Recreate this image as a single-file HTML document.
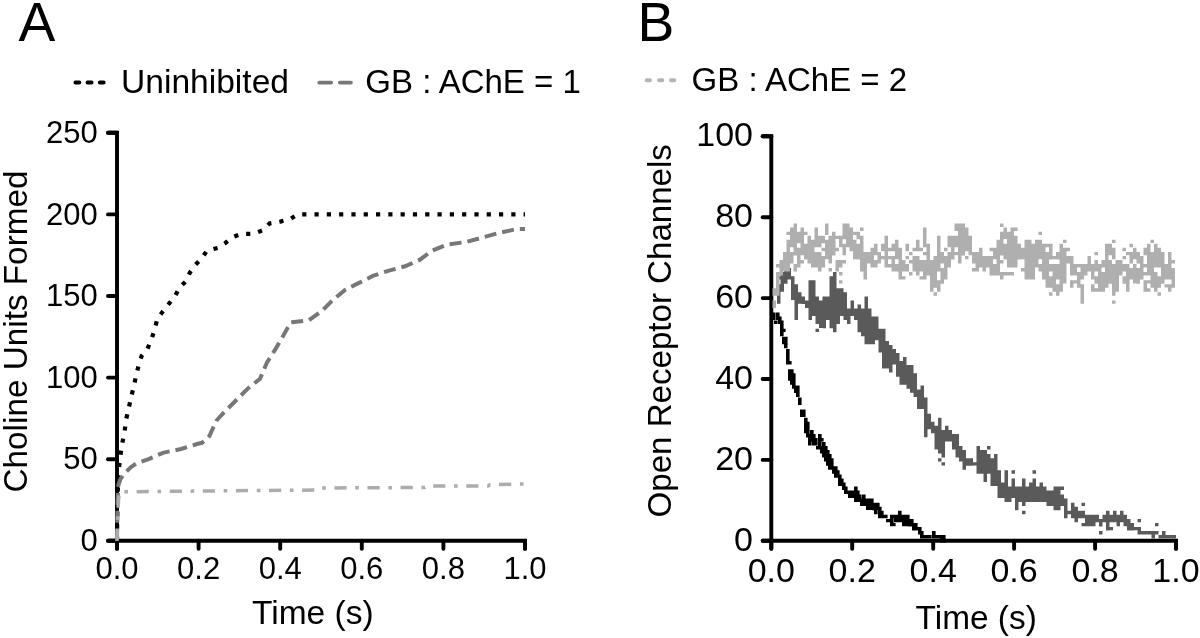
<!DOCTYPE html>
<html><head><meta charset="utf-8"><style>
html,body{margin:0;padding:0;background:#fff;}
body{width:1200px;height:638px;overflow:hidden;}
svg{display:block;will-change:transform;}
text{font-family:"Liberation Sans",sans-serif;fill:#000;}
</style></head><body>
<svg width="1200" height="638" viewBox="0 0 1200 638">
<rect width="1200" height="638" fill="#fff"/>
<!-- Panel letters -->
<text x="18.6" y="40.5" font-size="55.2">A</text>
<text x="637.6" y="40.5" font-size="55.2">B</text>
<!-- Legends -->
<g font-size="33">
<text x="121" y="93.4" font-size="33.6">Uninhibited</text>
<text x="365.3" y="92.9">GB : AChE = 1</text>
<text x="691.6" y="90.8">GB : AChE = 2</text>
</g>
<g fill="none" stroke-linecap="round" stroke-width="3.9">
<path d="M75.4 82.5H79.3M87.5 82.5H91.6M99.8 82.5H103.7" stroke="#000"/>
<path d="M319.3 82.6H331.1M339.9 82.6H350.9" stroke="#777"/>
<path d="M646.7 80.3H650M659 80.3H662.3M671 80.3H674.3" stroke="#b4b4b4"/>
</g>

<!-- Panel A axes -->
<g stroke="#000" stroke-width="3.9" stroke-linecap="round" fill="none">
<path d="M108 132.8H117.0V548.7"/>
<line x1="108" y1="540.8" x2="117.0" y2="540.8"/><line x1="108" y1="459.2" x2="117.0" y2="459.2"/><line x1="108" y1="377.6" x2="117.0" y2="377.6"/><line x1="108" y1="296" x2="117.0" y2="296"/><line x1="108" y1="214.4" x2="117.0" y2="214.4"/><line x1="108" y1="132.8" x2="117.0" y2="132.8"/>
<path d="M108 540.8H525.0V548.7"/>
<line x1="117" y1="540.8" x2="117" y2="548.7"/><line x1="198.6" y1="540.8" x2="198.6" y2="548.7"/><line x1="280.2" y1="540.8" x2="280.2" y2="548.7"/><line x1="361.8" y1="540.8" x2="361.8" y2="548.7"/><line x1="443.4" y1="540.8" x2="443.4" y2="548.7"/><line x1="525" y1="540.8" x2="525" y2="548.7"/>
</g>
<!-- Panel A data -->
<g fill="none">
<polyline points="117,540.8 117.4,505 118.2,477 119.3,465 120.8,453 122.5,442 124.7,431 126,420 128.3,410 131,398 133.5,387.5 136,376.2 138.6,365.4 141.6,356 147.4,349 151.4,339.5 154.8,329.2 157.2,319 163,311.3 169.2,303.4 174.9,296.5 179.6,287.4 185.6,281.6 189.9,272.6 195.6,264.5 201.8,258.3 206.8,250.8 217.6,248 225,243.2 232.6,237.2 241.6,233.8 253.8,233.8 263.3,230 269.5,223.5 280.2,221.6 290.1,219.2 297.5,214.3 525,214.3" stroke="#000" stroke-width="4.2" stroke-dasharray="4.2 8.1"/>
<polyline points="117,540.8 117.6,500 118.4,485 120.5,479 124.5,473.5 131,467 136,463.7 148,459.4 163,452.8 181,449 197,444 202,442.8 206,439.5 209.4,436 213,428 216.5,420.5 221,415.5 227,409.4 237.6,398.8 248.2,388.2 260,378.8 267,362.4 275.3,349.4 283.5,335.3 290.6,322.4 294,322 309,320.2 322,310.8 333,299.8 345,290 359,282.9 373.5,275.7 389,270.6 405,266.3 420,259.7 431.6,250.9 447,244.5 465.6,242.1 482,237.7 497.5,233.3 516,229.2 525,229" stroke="#777" stroke-width="4" stroke-dasharray="12 6"/>
<polyline points="117,540.8 117.6,520 118.5,500 119.5,491.8 316,490 318,488 425,487.5 427,486 488,486 490,484.8 525,484" stroke="#acacac" stroke-width="3.5" stroke-dasharray="12.2 8.7 3.6 8.6"/>
</g>
<!-- Panel A labels -->
<g font-size="31">
<text x="97.8" y="551" text-anchor="end">0</text><text x="97.8" y="469.4" text-anchor="end">50</text><text x="97.8" y="387.8" text-anchor="end">100</text><text x="97.8" y="306.2" text-anchor="end">150</text><text x="97.8" y="224.6" text-anchor="end">200</text><text x="97.8" y="143" text-anchor="end">250</text>
<text x="117" y="579" text-anchor="middle">0.0</text><text x="198.6" y="579" text-anchor="middle">0.2</text><text x="280.2" y="579" text-anchor="middle">0.4</text><text x="361.8" y="579" text-anchor="middle">0.6</text><text x="443.4" y="579" text-anchor="middle">0.8</text><text x="525" y="579" text-anchor="middle">1.0</text>
</g>
<text x="252" y="624.1" font-size="33.5">Time (s)</text>
<text transform="translate(26.8,492.5) rotate(-90)" font-size="33.3">Choline Units Formed</text>

<!-- Panel B axes -->
<g stroke="#000" stroke-width="3.9" stroke-linecap="round" fill="none">
<path d="M762.7 136.3H771.3V548.7"/>
<line x1="762.7" y1="540.8" x2="771.3" y2="540.8"/><line x1="762.7" y1="459.9" x2="771.3" y2="459.9"/><line x1="762.7" y1="379" x2="771.3" y2="379"/><line x1="762.7" y1="298.1" x2="771.3" y2="298.1"/><line x1="762.7" y1="217.2" x2="771.3" y2="217.2"/><line x1="762.7" y1="136.3" x2="771.3" y2="136.3"/>
<path d="M762.7 540.8H1176.0V548.7"/>
<line x1="771.3" y1="540.8" x2="771.3" y2="548.7"/><line x1="852.2" y1="540.8" x2="852.2" y2="548.7"/><line x1="933.2" y1="540.8" x2="933.2" y2="548.7"/><line x1="1014.1" y1="540.8" x2="1014.1" y2="548.7"/><line x1="1095.1" y1="540.8" x2="1095.1" y2="548.7"/><line x1="1176" y1="540.8" x2="1176" y2="548.7"/>
</g>
<!-- Panel B data -->
<path d="M772 312.6h3.6v7.5h-3.6zM774 320.6h3.6v3.4h-3.6zM776 312.6h3.6v7.5h-3.6zM778 316.6h3.6v7.5h-3.6zM780 320.6h3.6v15.6h-3.6zM782 336.8h3.6v7.5h-3.6zM782 328.7h3.6v3.4h-3.6zM784 336.8h3.6v11.5h-3.6zM786 349h3.6v15.6h-3.6zM788 369.2h3.6v11.5h-3.6zM788 361.1h3.6v3.4h-3.6zM790 369.2h3.6v15.6h-3.6zM792 373.2h3.6v15.6h-3.6zM794 385.4h3.6v7.5h-3.6zM796 385.4h3.6v11.5h-3.6zM798 397.5h3.6v7.5h-3.6zM800 409.6h3.6v7.5h-3.6zM802 409.6h3.6v7.5h-3.6zM804 417.7h3.6v15.6h-3.6zM806 421.8h3.6v15.6h-3.6zM808 433.9h3.6v11.5h-3.6zM810 429.9h3.6v11.5h-3.6zM812 433.9h3.6v11.5h-3.6zM814 438h3.6v7.5h-3.6zM816 446h3.6v3.4h-3.6zM818 433.9h3.6v15.6h-3.6zM820 446h3.6v7.5h-3.6zM820 438h3.6v3.4h-3.6zM822 442h3.6v15.6h-3.6zM824 446h3.6v15.6h-3.6zM826 450.1h3.6v15.6h-3.6zM828 454.1h3.6v15.6h-3.6zM830 458.2h3.6v11.5h-3.6zM832 466.3h3.6v7.5h-3.6zM834 466.3h3.6v11.5h-3.6zM836 470.3h3.6v7.5h-3.6zM838 474.4h3.6v11.5h-3.6zM840 478.4h3.6v7.5h-3.6zM842 482.4h3.6v7.5h-3.6zM844 486.5h3.6v7.5h-3.6zM846 490.5h3.6v3.4h-3.6zM848 490.5h3.6v7.5h-3.6zM850 490.5h3.6v7.5h-3.6zM852 490.5h3.6v7.5h-3.6zM854 486.5h3.6v15.6h-3.6zM856 490.5h3.6v11.5h-3.6zM858 494.6h3.6v7.5h-3.6zM860 498.6h3.6v7.5h-3.6zM862 494.6h3.6v11.5h-3.6zM864 498.6h3.6v7.5h-3.6zM866 498.6h3.6v11.5h-3.6zM868 498.6h3.6v11.5h-3.6zM870 498.6h3.6v11.5h-3.6zM872 502.7h3.6v7.5h-3.6zM874 502.7h3.6v11.5h-3.6zM876 502.7h3.6v7.5h-3.6zM878 506.7h3.6v11.5h-3.6zM880 510.8h3.6v7.5h-3.6zM882 514.8h3.6v3.4h-3.6zM884 514.8h3.6v3.4h-3.6zM886 518.9h3.6v3.4h-3.6zM888 518.9h3.6v3.4h-3.6zM890 514.8h3.6v11.5h-3.6zM892 522.9h3.6v3.4h-3.6zM892 514.8h3.6v3.4h-3.6zM894 514.8h3.6v7.5h-3.6zM896 514.8h3.6v7.5h-3.6zM898 510.8h3.6v11.5h-3.6zM900 514.8h3.6v7.5h-3.6zM902 514.8h3.6v11.5h-3.6zM904 514.8h3.6v11.5h-3.6zM906 514.8h3.6v11.5h-3.6zM908 518.9h3.6v7.5h-3.6zM910 518.9h3.6v7.5h-3.6zM912 522.9h3.6v7.5h-3.6zM914 522.9h3.6v7.5h-3.6zM916 526.9h3.6v3.4h-3.6zM918 526.9h3.6v7.5h-3.6zM920 531h3.6v7.5h-3.6zM922 535h3.6v3.4h-3.6zM924 535h3.6v3.4h-3.6zM926 535h3.6v3.4h-3.6zM928 535h3.6v3.4h-3.6zM930 539.1h3.6v3.4h-3.6zM932 531h3.6v7.5h-3.6zM934 535h3.6v3.4h-3.6zM936 535h3.6v3.4h-3.6zM938 535h3.6v3.4h-3.6zM940 535h3.6v7.5h-3.6zM942 535h3.6v7.5h-3.6z" fill="#000"/>
<path d="M777 284.2h3.5v19.6h-3.5zM777 276.2h3.5v3.4h-3.5zM780.5 272.1h3.5v19.6h-3.5zM784 268.1h3.5v15.6h-3.5zM787.5 268.1h3.5v11.5h-3.5zM791 276.2h3.5v23.7h-3.5zM794.5 284.2h3.5v35.8h-3.5zM798 292.3h3.5v11.5h-3.5zM801.5 296.4h3.5v7.5h-3.5zM805 300.4h3.5v7.5h-3.5zM808.5 280.2h3.5v39.8h-3.5zM812 280.2h3.5v35.8h-3.5zM815.5 328.7h3.5v3.4h-3.5zM815.5 296.4h3.5v27.7h-3.5zM819 300.4h3.5v27.7h-3.5zM822.5 296.4h3.5v31.8h-3.5zM826 296.4h3.5v23.7h-3.5zM829.5 276.2h3.5v52h-3.5zM833 272.1h3.5v60.1h-3.5zM836.5 288.3h3.5v35.8h-3.5zM840 288.3h3.5v27.7h-3.5zM843.5 292.3h3.5v27.7h-3.5zM847 308.5h3.5v15.6h-3.5zM850.5 300.4h3.5v15.6h-3.5zM854 308.5h3.5v11.5h-3.5zM857.5 304.5h3.5v27.7h-3.5zM861 308.5h3.5v27.7h-3.5zM864.5 296.4h3.5v47.9h-3.5zM868 308.5h3.5v35.8h-3.5zM871.5 316.6h3.5v27.7h-3.5zM875 316.6h3.5v23.7h-3.5zM878.5 328.7h3.5v23.7h-3.5zM882 328.7h3.5v39.8h-3.5zM885.5 340.9h3.5v27.7h-3.5zM889 344.9h3.5v27.7h-3.5zM892.5 349h3.5v15.6h-3.5zM896 353h3.5v23.7h-3.5zM899.5 361.1h3.5v23.7h-3.5zM903 357.1h3.5v27.7h-3.5zM906.5 365.1h3.5v23.7h-3.5zM910 365.1h3.5v27.7h-3.5zM913.5 373.2h3.5v23.7h-3.5zM917 389.4h3.5v19.6h-3.5zM920.5 385.4h3.5v23.7h-3.5zM924 397.5h3.5v39.8h-3.5zM927.5 413.7h3.5v15.6h-3.5zM931 421.8h3.5v11.5h-3.5zM934.5 425.8h3.5v23.7h-3.5zM938 458.2h3.5v3.4h-3.5zM938 417.7h3.5v35.8h-3.5zM941.5 462.2h3.5v3.4h-3.5zM941.5 429.9h3.5v27.7h-3.5zM945 425.8h3.5v15.6h-3.5zM948.5 429.9h3.5v11.5h-3.5zM952 433.9h3.5v15.6h-3.5zM955.5 433.9h3.5v23.7h-3.5zM959 446h3.5v15.6h-3.5zM962.5 450.1h3.5v19.6h-3.5zM966 458.2h3.5v7.5h-3.5zM969.5 458.2h3.5v7.5h-3.5zM973 462.2h3.5v3.4h-3.5zM976.5 446h3.5v27.7h-3.5zM980 450.1h3.5v23.7h-3.5zM983.5 450.1h3.5v31.8h-3.5zM987 454.1h3.5v19.6h-3.5zM987 446h3.5v3.4h-3.5zM990.5 458.2h3.5v27.7h-3.5zM994 454.1h3.5v31.8h-3.5zM997.5 470.3h3.5v27.7h-3.5zM1001 482.4h3.5v15.6h-3.5zM1004.5 470.3h3.5v31.8h-3.5zM1008 486.5h3.5v15.6h-3.5zM1011.5 478.4h3.5v19.6h-3.5zM1011.5 470.3h3.5v3.4h-3.5zM1015 486.5h3.5v23.7h-3.5zM1018.5 486.5h3.5v15.6h-3.5zM1022 510.8h3.5v3.4h-3.5zM1022 478.4h3.5v27.7h-3.5zM1025.5 486.5h3.5v15.6h-3.5zM1029 482.4h3.5v19.6h-3.5zM1032.5 478.4h3.5v23.7h-3.5zM1032.5 470.3h3.5v3.4h-3.5zM1036 486.5h3.5v15.6h-3.5zM1039.5 482.4h3.5v19.6h-3.5zM1043 486.5h3.5v15.6h-3.5zM1046.5 490.5h3.5v15.6h-3.5zM1050 490.5h3.5v15.6h-3.5zM1053.5 486.5h3.5v23.7h-3.5zM1057 486.5h3.5v23.7h-3.5zM1060.5 494.6h3.5v11.5h-3.5zM1060.5 486.5h3.5v3.4h-3.5zM1064 498.6h3.5v19.6h-3.5zM1067.5 510.8h3.5v3.4h-3.5zM1071 502.7h3.5v15.6h-3.5zM1074.5 506.7h3.5v15.6h-3.5zM1078 510.8h3.5v7.5h-3.5zM1081.5 522.9h3.5v3.4h-3.5zM1081.5 510.8h3.5v7.5h-3.5zM1081.5 502.7h3.5v3.4h-3.5zM1085 514.8h3.5v11.5h-3.5zM1088.5 514.8h3.5v11.5h-3.5zM1092 514.8h3.5v11.5h-3.5zM1095.5 514.8h3.5v7.5h-3.5zM1099 531h3.5v3.4h-3.5zM1099 518.9h3.5v7.5h-3.5zM1102.5 514.8h3.5v7.5h-3.5zM1106 510.8h3.5v19.6h-3.5zM1109.5 526.9h3.5v3.4h-3.5zM1109.5 514.8h3.5v7.5h-3.5zM1113 510.8h3.5v11.5h-3.5zM1116.5 514.8h3.5v11.5h-3.5zM1120 510.8h3.5v11.5h-3.5zM1123.5 514.8h3.5v11.5h-3.5zM1127 518.9h3.5v11.5h-3.5zM1130.5 522.9h3.5v7.5h-3.5zM1134 526.9h3.5v3.4h-3.5zM1137.5 526.9h3.5v7.5h-3.5zM1137.5 518.9h3.5v3.4h-3.5zM1141 531h3.5v3.4h-3.5zM1144.5 531h3.5v3.4h-3.5zM1148 531h3.5v3.4h-3.5zM1151.5 531h3.5v7.5h-3.5zM1155 531h3.5v3.4h-3.5zM1155 522.9h3.5v3.4h-3.5zM1158.5 535h3.5v3.4h-3.5zM1162 531h3.5v7.5h-3.5zM1165.5 535h3.5v3.4h-3.5zM1169 535h3.5v3.4h-3.5zM1172.5 535h3.5v3.4h-3.5z" fill="#5a5a5a"/>
<path d="M772.5 300.4h3.5v7.5h-3.5zM772.5 288.3h3.5v7.5h-3.5zM776 272.1h3.5v23.7h-3.5zM776 264h3.5v3.4h-3.5zM779.5 260h3.5v15.6h-3.5zM783 251.9h3.5v19.6h-3.5zM786.5 239.7h3.5v31.8h-3.5zM786.5 231.7h3.5v3.4h-3.5zM790 251.9h3.5v11.5h-3.5zM790 227.6h3.5v19.6h-3.5zM793.5 264h3.5v7.5h-3.5zM793.5 223.6h3.5v31.8h-3.5zM797 247.8h3.5v19.6h-3.5zM797 231.7h3.5v11.5h-3.5zM800.5 260h3.5v3.4h-3.5zM800.5 227.6h3.5v27.7h-3.5zM804 243.8h3.5v15.6h-3.5zM804 231.7h3.5v3.4h-3.5zM807.5 235.7h3.5v27.7h-3.5zM811 239.7h3.5v27.7h-3.5zM814.5 251.9h3.5v15.6h-3.5zM814.5 227.6h3.5v19.6h-3.5zM818 251.9h3.5v19.6h-3.5zM818 235.7h3.5v11.5h-3.5zM821.5 255.9h3.5v11.5h-3.5zM821.5 247.8h3.5v3.4h-3.5zM821.5 235.7h3.5v7.5h-3.5zM825 239.7h3.5v19.6h-3.5zM825 223.6h3.5v11.5h-3.5zM828.5 268.1h3.5v3.4h-3.5zM828.5 235.7h3.5v27.7h-3.5zM832 231.7h3.5v23.7h-3.5zM835.5 260h3.5v11.5h-3.5zM835.5 247.8h3.5v3.4h-3.5zM835.5 235.7h3.5v3.4h-3.5zM839 280.2h3.5v3.4h-3.5zM839 272.1h3.5v3.4h-3.5zM839 260h3.5v7.5h-3.5zM839 235.7h3.5v11.5h-3.5zM842.5 260h3.5v3.4h-3.5zM842.5 243.8h3.5v11.5h-3.5zM842.5 223.6h3.5v15.6h-3.5zM846 223.6h3.5v23.7h-3.5zM849.5 227.6h3.5v23.7h-3.5zM853 239.7h3.5v19.6h-3.5zM853 231.7h3.5v3.4h-3.5zM856.5 243.8h3.5v15.6h-3.5zM856.5 231.7h3.5v7.5h-3.5zM860 235.7h3.5v35.8h-3.5zM860 227.6h3.5v3.4h-3.5zM863.5 251.9h3.5v27.7h-3.5zM867 251.9h3.5v11.5h-3.5zM870.5 247.8h3.5v19.6h-3.5zM874 260h3.5v7.5h-3.5zM874 243.8h3.5v11.5h-3.5zM877.5 251.9h3.5v11.5h-3.5zM881 255.9h3.5v3.4h-3.5zM881 243.8h3.5v7.5h-3.5zM884.5 235.7h3.5v31.8h-3.5zM888 264h3.5v3.4h-3.5zM888 255.9h3.5v3.4h-3.5zM888 247.8h3.5v3.4h-3.5zM891.5 255.9h3.5v15.6h-3.5zM891.5 243.8h3.5v7.5h-3.5zM895 264h3.5v7.5h-3.5zM895 239.7h3.5v19.6h-3.5zM898.5 247.8h3.5v31.8h-3.5zM902 276.2h3.5v3.4h-3.5zM902 260h3.5v11.5h-3.5zM905.5 264h3.5v7.5h-3.5zM905.5 255.9h3.5v3.4h-3.5zM905.5 243.8h3.5v7.5h-3.5zM909 272.1h3.5v3.4h-3.5zM909 260h3.5v3.4h-3.5zM909 251.9h3.5v3.4h-3.5zM912.5 255.9h3.5v15.6h-3.5zM912.5 247.8h3.5v3.4h-3.5zM916 255.9h3.5v19.6h-3.5zM916 239.7h3.5v11.5h-3.5zM919.5 276.2h3.5v3.4h-3.5zM919.5 260h3.5v11.5h-3.5zM919.5 247.8h3.5v3.4h-3.5zM923 260h3.5v19.6h-3.5zM923 251.9h3.5v3.4h-3.5zM923 227.6h3.5v19.6h-3.5zM926.5 243.8h3.5v31.8h-3.5zM930 260h3.5v31.8h-3.5zM933.5 292.3h3.5v3.4h-3.5zM933.5 255.9h3.5v31.8h-3.5zM937 280.2h3.5v11.5h-3.5zM937 235.7h3.5v35.8h-3.5zM940.5 268.1h3.5v15.6h-3.5zM940.5 251.9h3.5v11.5h-3.5zM944 255.9h3.5v23.7h-3.5zM944 247.8h3.5v3.4h-3.5zM947.5 251.9h3.5v15.6h-3.5zM947.5 235.7h3.5v11.5h-3.5zM951 235.7h3.5v23.7h-3.5zM954.5 251.9h3.5v3.4h-3.5zM954.5 235.7h3.5v11.5h-3.5zM954.5 223.6h3.5v7.5h-3.5zM958 223.6h3.5v39.8h-3.5zM961.5 223.6h3.5v31.8h-3.5zM965 255.9h3.5v3.4h-3.5zM965 227.6h3.5v23.7h-3.5zM968.5 235.7h3.5v19.6h-3.5zM972 268.1h3.5v3.4h-3.5zM972 251.9h3.5v11.5h-3.5zM975.5 251.9h3.5v19.6h-3.5zM979 247.8h3.5v19.6h-3.5zM982.5 255.9h3.5v15.6h-3.5zM986 255.9h3.5v11.5h-3.5zM989.5 255.9h3.5v19.6h-3.5zM989.5 247.8h3.5v3.4h-3.5zM993 264h3.5v11.5h-3.5zM993 247.8h3.5v11.5h-3.5zM996.5 239.7h3.5v35.8h-3.5zM1000 272.1h3.5v7.5h-3.5zM1000 260h3.5v3.4h-3.5zM1000 231.7h3.5v23.7h-3.5zM1000 223.6h3.5v3.4h-3.5zM1003.5 272.1h3.5v3.4h-3.5zM1003.5 243.8h3.5v15.6h-3.5zM1003.5 227.6h3.5v11.5h-3.5zM1007 272.1h3.5v3.4h-3.5zM1007 231.7h3.5v35.8h-3.5zM1010.5 272.1h3.5v3.4h-3.5zM1010.5 227.6h3.5v39.8h-3.5zM1014 235.7h3.5v31.8h-3.5zM1014 227.6h3.5v3.4h-3.5zM1017.5 243.8h3.5v15.6h-3.5zM1021 268.1h3.5v3.4h-3.5zM1021 247.8h3.5v11.5h-3.5zM1024.5 239.7h3.5v39.8h-3.5zM1028 239.7h3.5v39.8h-3.5zM1031.5 243.8h3.5v35.8h-3.5zM1035 239.7h3.5v27.7h-3.5zM1038.5 264h3.5v7.5h-3.5zM1038.5 239.7h3.5v19.6h-3.5zM1038.5 231.7h3.5v3.4h-3.5zM1042 243.8h3.5v35.8h-3.5zM1045.5 251.9h3.5v35.8h-3.5zM1045.5 243.8h3.5v3.4h-3.5zM1049 292.3h3.5v3.4h-3.5zM1049 276.2h3.5v11.5h-3.5zM1049 264h3.5v7.5h-3.5zM1049 243.8h3.5v15.6h-3.5zM1052.5 264h3.5v27.7h-3.5zM1052.5 255.9h3.5v3.4h-3.5zM1056 284.2h3.5v11.5h-3.5zM1056 264h3.5v15.6h-3.5zM1056 251.9h3.5v7.5h-3.5zM1059.5 243.8h3.5v47.9h-3.5zM1063 247.8h3.5v35.8h-3.5zM1063 239.7h3.5v3.4h-3.5zM1066.5 255.9h3.5v7.5h-3.5zM1066.5 247.8h3.5v3.4h-3.5zM1070 280.2h3.5v7.5h-3.5zM1070 255.9h3.5v19.6h-3.5zM1073.5 280.2h3.5v3.4h-3.5zM1073.5 264h3.5v11.5h-3.5zM1077 272.1h3.5v15.6h-3.5zM1077 264h3.5v3.4h-3.5zM1080.5 284.2h3.5v19.6h-3.5zM1080.5 264h3.5v15.6h-3.5zM1084 264h3.5v11.5h-3.5zM1087.5 255.9h3.5v15.6h-3.5zM1091 284.2h3.5v7.5h-3.5zM1091 264h3.5v15.6h-3.5zM1094.5 288.3h3.5v3.4h-3.5zM1094.5 276.2h3.5v7.5h-3.5zM1094.5 260h3.5v11.5h-3.5zM1094.5 251.9h3.5v3.4h-3.5zM1098 264h3.5v27.7h-3.5zM1101.5 272.1h3.5v19.6h-3.5zM1101.5 260h3.5v7.5h-3.5zM1105 243.8h3.5v43.9h-3.5zM1108.5 260h3.5v23.7h-3.5zM1108.5 243.8h3.5v11.5h-3.5zM1112 300.4h3.5v3.4h-3.5zM1112 264h3.5v31.8h-3.5zM1112 247.8h3.5v11.5h-3.5zM1112 239.7h3.5v3.4h-3.5zM1115.5 260h3.5v31.8h-3.5zM1119 260h3.5v15.6h-3.5zM1122.5 276.2h3.5v7.5h-3.5zM1122.5 264h3.5v7.5h-3.5zM1122.5 255.9h3.5v3.4h-3.5zM1122.5 247.8h3.5v3.4h-3.5zM1126 264h3.5v27.7h-3.5zM1126 251.9h3.5v3.4h-3.5zM1129.5 268.1h3.5v11.5h-3.5zM1129.5 251.9h3.5v11.5h-3.5zM1129.5 243.8h3.5v3.4h-3.5zM1133 264h3.5v19.6h-3.5zM1133 247.8h3.5v11.5h-3.5zM1136.5 268.1h3.5v15.6h-3.5zM1136.5 251.9h3.5v11.5h-3.5zM1140 255.9h3.5v23.7h-3.5zM1143.5 280.2h3.5v11.5h-3.5zM1143.5 272.1h3.5v3.4h-3.5zM1143.5 264h3.5v3.4h-3.5zM1143.5 247.8h3.5v7.5h-3.5zM1147 288.3h3.5v3.4h-3.5zM1147 280.2h3.5v3.4h-3.5zM1147 243.8h3.5v31.8h-3.5zM1150.5 251.9h3.5v35.8h-3.5zM1150.5 239.7h3.5v3.4h-3.5zM1154 272.1h3.5v19.6h-3.5zM1154 243.8h3.5v23.7h-3.5zM1157.5 292.3h3.5v3.4h-3.5zM1157.5 276.2h3.5v11.5h-3.5zM1157.5 247.8h3.5v19.6h-3.5zM1161 251.9h3.5v31.8h-3.5zM1164.5 284.2h3.5v3.4h-3.5zM1164.5 264h3.5v15.6h-3.5zM1168 284.2h3.5v7.5h-3.5zM1168 251.9h3.5v27.7h-3.5zM1171.5 268.1h3.5v19.6h-3.5zM1171.5 260h3.5v3.4h-3.5z" fill="#afafaf"/>
<g font-size="34">
<text x="753" y="550.9" text-anchor="end">0</text><text x="753" y="470" text-anchor="end">20</text><text x="753" y="389.1" text-anchor="end">40</text><text x="753" y="308.2" text-anchor="end">60</text><text x="753" y="227.3" text-anchor="end">80</text><text x="753" y="146.4" text-anchor="end">100</text>
<text x="771.3" y="582" text-anchor="middle">0.0</text><text x="852.2" y="582" text-anchor="middle">0.2</text><text x="933.2" y="582" text-anchor="middle">0.4</text><text x="1014.1" y="582" text-anchor="middle">0.6</text><text x="1095.1" y="582" text-anchor="middle">0.8</text><text x="1176" y="582" text-anchor="middle">1.0</text>
</g>
<text x="915.6" y="628.7" font-size="33.4">Time (s)</text>
<text transform="translate(671.2,517.4) rotate(-90)" font-size="33.1">Open Receptor Channels</text>
</svg>
</body></html>
